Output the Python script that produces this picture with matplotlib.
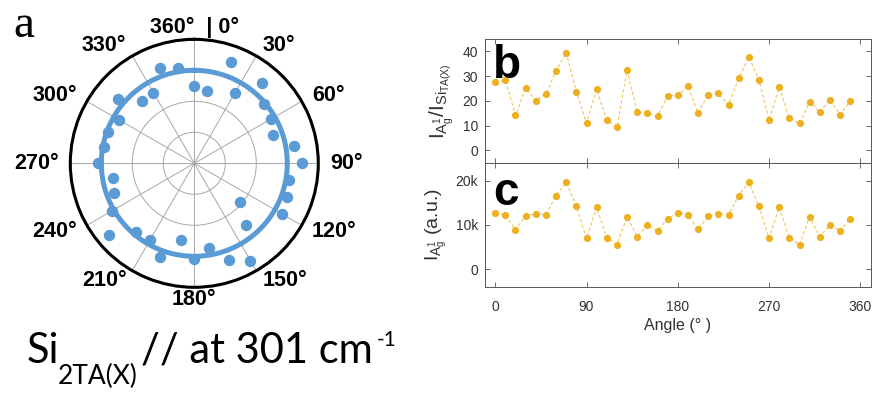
import numpy as np
import matplotlib
matplotlib.use('Agg')
import matplotlib.pyplot as plt

plt.rcParams['font.family'] = ['Liberation Sans', 'DejaVu Sans']
plt.rcParams['mathtext.default'] = 'regular'

# polarisation angles (deg) and normalised intensity of Si 2TA(X)
angles = [0, 10, 20, 30, 40, 50, 60, 70, 80, 90, 100, 110, 120, 130, 140, 150, 160, 170,
          180, 190, 200, 210, 220, 230, 240, 250, 260, 270, 280, 290, 300, 310, 320, 330, 340, 350]
polar_r = [0.626, 0.594, 0.866, 0.653, 0.847, 0.739, 0.710, 0.672, 0.817, 0.866, 0.777, 0.792,
           0.819, 0.484, 0.648, 0.906, 0.828, 0.696, 0.774, 0.626, 0.801, 0.718, 0.726, 0.903,
           0.769, 0.691, 0.664, 0.780, 0.742, 0.739, 0.702, 0.804, 0.659, 0.659, 0.815, 0.777]
fit_r = 0.75

# panel b: ratio I(Ag1) / I(Si TA(X))
ratio = [27.5, 28.3, 14.1, 25.1, 20.1, 22.8, 32.1, 39.5, 23.6, 11.0, 24.7, 12.3,
         9.4, 32.3, 15.4, 15.0, 14.0, 21.9, 22.3, 26.0, 15.0, 22.5, 23.1, 18.3,
         29.1, 37.7, 28.5, 12.2, 25.5, 12.9, 10.9, 19.7, 15.3, 20.5, 14.4, 20.0]
# panel c: I(Ag1) intensity
intensity = [12700, 12300, 8900, 12100, 12500, 12300, 16600, 19600, 14200, 7000, 14000, 7100,
             5600, 11800, 7400, 10000, 8700, 11400, 12800, 12300, 9000, 12100, 12500, 12300,
             16600, 19600, 14200, 7000, 14000, 7100, 5600, 11800, 7400, 10000, 8700, 11400]

theta_ticks = [0, 30, 60, 90, 120, 150, 180, 210, 240, 270, 300, 330]
theta_labels = ['360°  | 0°', '30°', '60°', '90°', '120°', '150°', '180°',
                '210°', '240°', '270°', '300°', '330°']

blue = '#5B9BD5'
gold = '#EDB120'
axcol = '#555555'
txtcol = '#333333'

fig = plt.figure(figsize=(8.74, 3.94), dpi=100)

# ---- polar panel a
ax = fig.add_axes([0.0804, 0.2708, 0.2838, 0.6294], projection='polar')
ax.set_theta_zero_location('N')
ax.set_theta_direction(-1)
th = np.deg2rad(angles)
ax.plot(th, polar_r, 'o', color=blue, ms=7.2, zorder=3)
tt = np.linspace(0, 2 * np.pi, 400)
ax.plot(tt, np.full_like(tt, fit_r), color=blue, lw=3.6, zorder=2)
ax.set_ylim(0, 1)
ax.set_yticks([0.25, 0.5, 0.75])
ax.set_yticklabels([])
ax.set_thetagrids(theta_ticks, theta_labels, fontsize=15.5, fontweight='bold')
ax.tick_params(axis='x', pad=-2)
ax.grid(color='#a8a8a8', lw=0.7)
ax.spines['polar'].set_linewidth(2.2)
ax.spines['polar'].set_color('black')

fig.canvas.draw()
# MATLAB-like label anchoring: edge of the label faces the circle
for ang, lab in zip(theta_ticks, ax.get_xticklabels()):
    if 0 < ang < 180:
        lab.set_ha('left')
    elif ang > 180:
        lab.set_ha('right')

fig.text(0.0149, 0.906, 'a', fontsize=34, family='Liberation Serif', va='baseline')

# bottom caption: Si_2TA(X) // at 301 cm^-1
fig.text(0.031, 0.079, 'Si', fontsize=30, family='Lato', va='baseline')
fig.text(0.066, 0.026, '2TA(X)', fontsize=19, family='Lato', va='baseline')
cap = fig.text(0.161, 0.079, '// at 301 cm', fontsize=30, family='Lato', va='baseline')
fig.canvas.draw()
bb = cap.get_window_extent()
fig.text((bb.x1 + 4) / fig.bbox.width, 0.122, '-1', fontsize=15, family='Lato', va='baseline')

# ---- panel b
axb = fig.add_axes([0.555, 0.587, 0.441, 0.314])
axb.plot(angles, ratio, '--', color=gold, lw=0.8, alpha=0.75, dashes=(3, 2))
axb.plot(angles, ratio, 'o', color=gold, ms=5.2, mec='none')
axb.set_ylim(-5, 45)
axb.set_yticks([0, 10, 20, 30, 40])
axb.set_ylabel(r'$I_{A_g^{1}}/I_{Si_{TA(X)}}$', fontsize=15, color=txtcol, labelpad=5)
axb.text(0.02, 0.96, 'b', transform=axb.transAxes, fontsize=33, fontweight='bold', va='top')

# ---- panel c
axc = fig.add_axes([0.555, 0.271, 0.441, 0.316])
axc.plot(angles, intensity, '--', color=gold, lw=0.8, alpha=0.75, dashes=(3, 2))
axc.plot(angles, intensity, 'o', color=gold, ms=5.2, mec='none')
axc.set_ylim(-4000, 24000)
axc.set_yticks([0, 10000, 20000])
axc.set_yticklabels(['0', '10k', '20k'])
axc.set_ylabel(r'$I_{A_g^{1}}$ (a.u.)', fontsize=14, color=txtcol, labelpad=5)
axc.set_xlabel('Angle (° )', fontsize=11.5, color=txtcol, labelpad=3)
axc.text(0.02, 0.93, 'c', transform=axc.transAxes, fontsize=33, fontweight='bold', va='top')

for a in (axb, axc):
    a.set_xlim(-10, 370)
    a.set_xticks([0, 90, 180, 270, 360])
    a.tick_params(direction='in', top=True, right=True, length=3.5, width=0.6,
                  color=axcol, labelcolor=txtcol, labelsize=10, pad=5)
    for s in a.spines.values():
        s.set_color(axcol)
        s.set_linewidth(0.7)
axb.tick_params(labelbottom=False)
axc.tick_params(axis='x', pad=9)

fig.savefig('out.png', dpi=100)
